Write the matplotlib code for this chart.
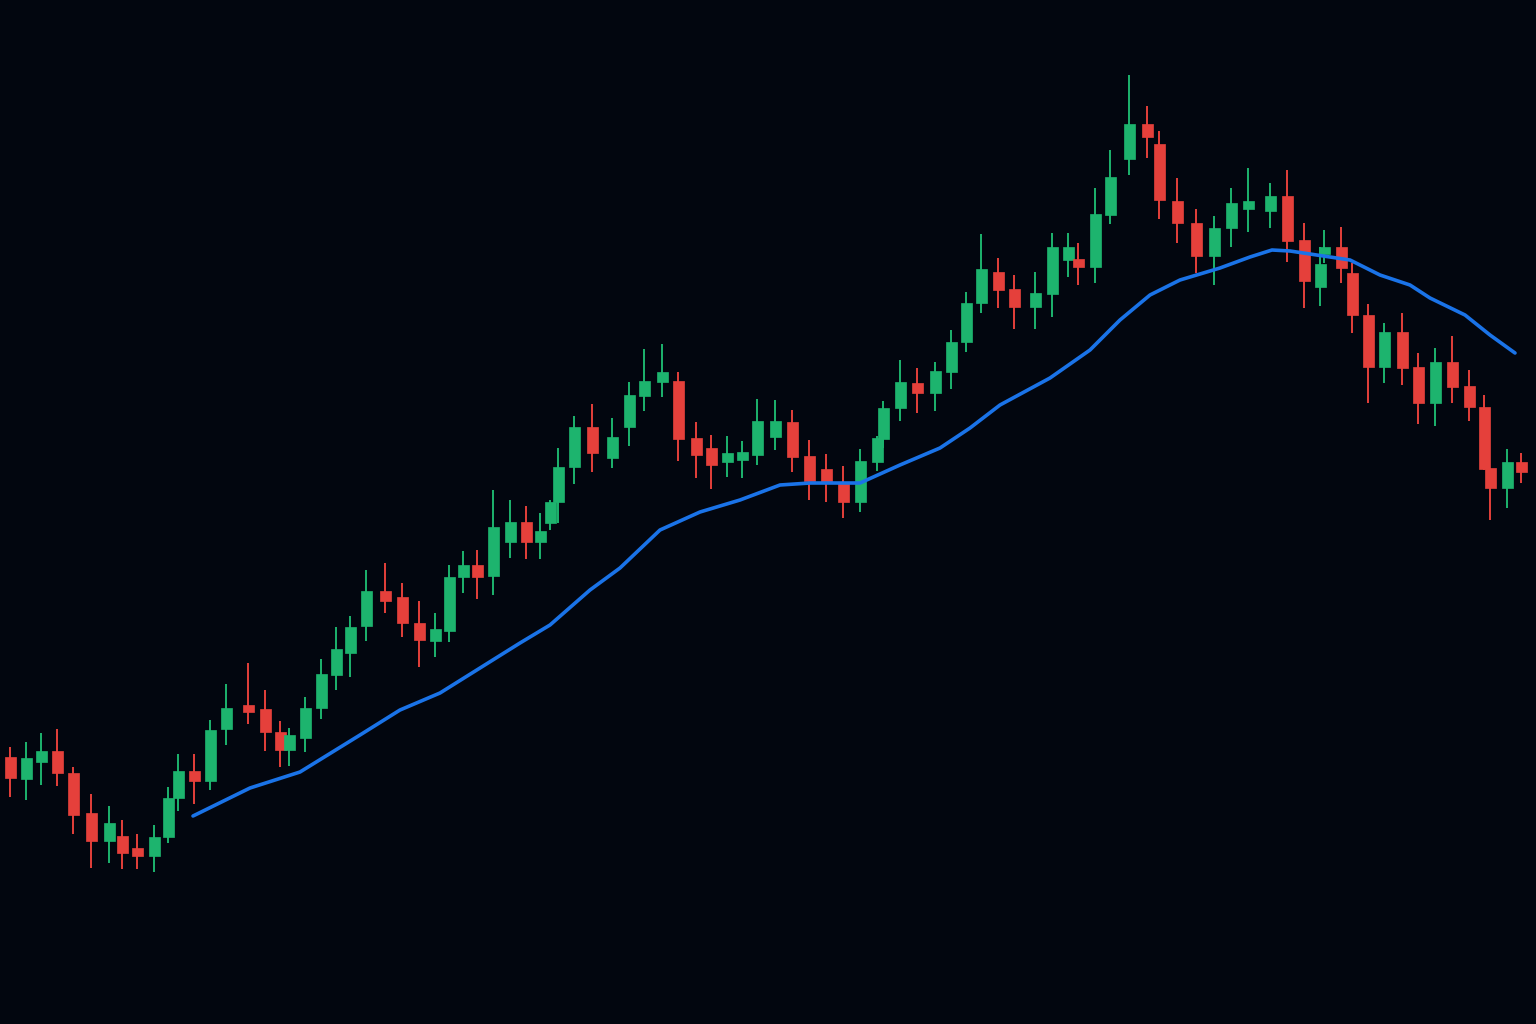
import matplotlib
matplotlib.use("Agg")
import matplotlib.pyplot as plt

t = [10,26,41,57,73,91,109,122,137,154,168,178,194,210,226,248,265,280,289,305,321,336,350,366,
     385,402,419,435,449,463,477,493,510,526,540,550,558,574,592,612,629,644,662,678,696,711,727,742,
     757,775,792,809,826,843,860,877,883,900,917,935,951,966,981,998,1014,1035,1052,1068,1078,1095,
     1110,1129,1147,1159,1177,1196,1214,1231,1248,1270,1287,1304,1320,1324,1341,1352,1368,1384,1402,
     1418,1435,1452,1469,1484,1490,1507,1521]
opens = [267,245,262,273,251,211,183,188,176,168,187,226,253,243,295,319,315,292,274,286,316,349,371,398,
         433,427,401,383,393,447,459,448,482,502,482,501,522,557,597,566,597,628,642,643,586,576,562,564,
         569,587,602,568,555,542,522,562,585,616,641,631,652,682,721,752,735,717,730,764,765,757,
         809,865,900,880,823,801,768,796,815,813,828,784,737,770,777,751,709,657,692,
         657,621,662,638,617,556,536,562]
closes = [246,266,273,251,209,183,201,171,168,187,226,253,243,294,316,312,292,274,289,316,350,375,397,433,
          423,401,384,395,447,459,447,497,502,482,493,522,557,597,571,587,629,643,652,585,569,559,571,572,
          603,603,567,543,541,522,563,586,616,642,631,653,682,721,755,734,717,731,777,777,757,810,
          847,900,887,824,801,768,796,821,823,828,783,743,760,777,756,709,657,692,656,
          621,662,637,617,555,536,562,552]
highs = [277,282,291,295,257,230,218,204,190,199,237,270,270,304,340,361,334,303,296,327,365,397,408,454,
         461,441,423,411,459,473,474,534,524,518,511,524,576,608,620,606,642,675,680,652,602,589,588,583,
         625,624,614,584,570,558,575,588,623,664,656,662,694,732,790,766,749,752,791,791,781,836,
         874,949,918,893,846,815,808,836,856,841,854,801,777,794,797,761,720,701,711,
         671,676,688,654,629,556,575,571]
lows = [227,224,239,238,190,156,161,155,155,152,181,213,220,234,279,300,273,257,258,272,305,334,347,383,
        411,387,357,367,382,431,425,429,466,465,465,494,501,540,552,556,578,613,627,563,546,535,547,546,
        559,574,552,524,522,506,512,553,576,603,611,613,635,672,711,716,695,695,707,747,739,741,
        800,849,866,805,781,751,739,777,792,796,762,716,718,761,741,691,621,641,639,
        600,598,621,603,554,504,516,541]

ma_t = [193,250,300,360,400,440,480,520,550,590,620,660,700,740,780,810,860,900,940,970,1000,1050,
        1090,1120,1150,1180,1220,1250,1272,1290,1310,1350,1380,1410,1430,1465,1490,1515]
ma_v = [208,236,252,289,314,331,356,381,399,434,456,494,512,524,539,541,541,559,576,596,619,646,
        674,704,729,744,756,767,774,773,770,764,749,739,726,709,689,671]

BG = "#02060f"
GREEN = "#1db46e"
RED = "#e5403b"

fig = plt.figure(figsize=(15.36, 10.24), dpi=100, facecolor=BG)
ax = fig.add_axes([0, 0, 1, 1])
ax.set_facecolor(BG)
for x, o, c, h, l in zip(t, opens, closes, highs, lows):
    col = GREEN if c >= o else RED
    ax.vlines(x, l, h, color=col, linewidth=1.4, zorder=2)
    ax.bar(x, max(abs(c - o), 1.5), bottom=min(o, c), width=11, color=col, edgecolor=col, linewidth=0.5, zorder=3)
ax.plot(ma_t, ma_v, color="#1a73e8", linewidth=2.6, zorder=4, solid_capstyle="round")
ax.set_xlim(0, 1536)
ax.set_ylim(0, 1024)
ax.axis("off")
fig.savefig("out.png", dpi=100, facecolor=BG)
